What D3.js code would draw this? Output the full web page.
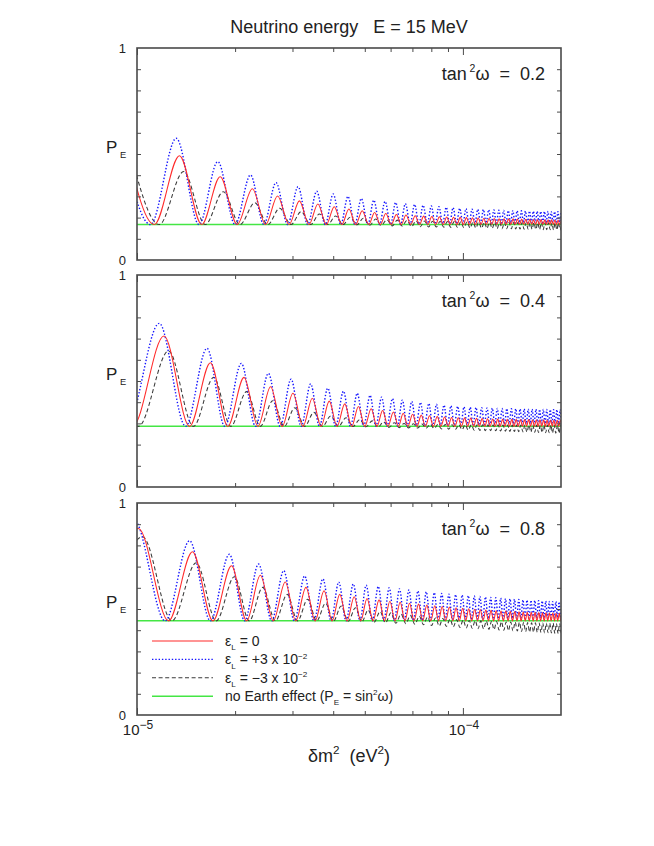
<!DOCTYPE html>
<html>

<head>
  <meta charset="utf-8">
  <script src="https://cdn.jsdelivr.net/npm/d3@7"></script>
  <title>Neutrino energy E = 15 MeV</title>
  <style>
    body {
      margin: 0px;
      background: #fff;
    }

    text {
      font-family: "Liberation Sans", Arial, sans-serif;
      fill: #222;
      white-space: pre;
    }
  </style>
</head>

<body>
  <svg width="654" height="846"></svg>
  <script>

    // dm2 in units of 1e-5 eV^2, P_E read at each maximum / minimum of the curves
    const tanValues = ['0.2', '0.4', '0.8'];
    const noEarth = [0.167, 0.286, 0.444];   // P_E = sin^2(w), red minima sit on it

    // ---- tan^2 w = 0.2
    const redPeakX1 = [0.91, 1.35, 1.80, 2.26, 2.70, 3.15, 3.59, 4.03, 4.47, 4.91, 5.36, 5.80, 6.25, 6.69, 7.14, 7.58, 8.03, 8.47, 8.92, 9.36, 9.81, 10.25, 10.70, 11.14, 11.59, 12.03, 12.48, 12.92, 13.37, 13.81, 14.26, 14.70, 15.15, 15.59, 16.04, 16.48, 16.93, 17.37, 17.82, 18.26, 18.71, 19.15, 19.60, 20.04];
    const redPeakP1 = [0.60, 0.492, 0.393, 0.336, 0.302, 0.279, 0.264, 0.251, 0.241, 0.232, 0.224, 0.219, 0.215, 0.212, 0.209, 0.207, 0.205, 0.204, 0.203, 0.202, 0.201, 0.200, 0.199, 0.198, 0.197, 0.197, 0.196, 0.195, 0.195, 0.194, 0.194, 0.193, 0.193, 0.192, 0.192, 0.191, 0.191, 0.191, 0.190, 0.190, 0.190, 0.189, 0.189, 0.189];
    const redTroughX1 = [1.13, 1.58, 2.03, 2.48, 2.93, 3.37, 3.81, 4.25, 4.69, 5.14, 5.58, 6.03, 6.47, 6.92, 7.36, 7.81, 8.25, 8.70, 9.14, 9.59, 10.03, 10.48, 10.92, 11.37, 11.81, 12.26, 12.70, 13.15, 13.59, 14.04, 14.48, 14.93, 15.37, 15.82, 16.26, 16.71, 17.15, 17.60, 18.04, 18.49, 18.93, 19.38, 19.82];

    const bluePeakX1 = [0.88, 1.32, 1.77, 2.23, 2.67, 3.12, 3.56, 4.00, 4.44, 4.88, 5.33, 5.77, 6.22, 6.66, 7.11, 7.55, 8.00, 8.44, 8.89, 9.33, 9.78, 10.22, 10.67, 11.11, 11.56, 12.00, 12.45, 12.89, 13.34, 13.78, 14.23, 14.67, 15.12, 15.56, 16.01, 16.45, 16.90, 17.34, 17.79, 18.23, 18.68, 19.12, 19.57, 20.01];
    const bluePeakP1 = [0.64, 0.574, 0.464, 0.401, 0.365, 0.346, 0.324, 0.311, 0.300, 0.290, 0.282, 0.276, 0.271, 0.266, 0.262, 0.258, 0.255, 0.252, 0.249, 0.247, 0.244, 0.242, 0.240, 0.239, 0.238, 0.237, 0.236, 0.235, 0.234, 0.233, 0.233, 0.232, 0.232, 0.231, 0.231, 0.230, 0.230, 0.229, 0.229, 0.229, 0.228, 0.228, 0.228, 0.228];
    const blueTroughX1 = [1.10, 1.55, 2.00, 2.45, 2.90, 3.34, 3.78, 4.22, 4.66, 5.11, 5.55, 6.00, 6.44, 6.89, 7.33, 7.78, 8.22, 8.67, 9.11, 9.56, 10.00, 10.45, 10.89, 11.34, 11.78, 12.23, 12.67, 13.12, 13.56, 14.01, 14.45, 14.90, 15.34, 15.79, 16.23, 16.68, 17.12, 17.57, 18.01, 18.46, 18.90, 19.35, 19.79];
    const blueTroughP1 = [0.167, 0.167, 0.167, 0.167, 0.167, 0.167, 0.167, 0.167, 0.167, 0.167, 0.167, 0.168, 0.168, 0.169, 0.169, 0.170, 0.170, 0.171, 0.171, 0.172, 0.172, 0.172, 0.173, 0.173, 0.174, 0.174, 0.174, 0.175, 0.175, 0.175, 0.175, 0.176, 0.176, 0.176, 0.176, 0.176, 0.177, 0.177, 0.177, 0.177, 0.177, 0.178, 0.178];

    const blackPeakX1 = [0.95, 1.39, 1.84, 2.30, 2.74, 3.19, 3.63, 4.07, 4.51, 4.95, 5.40, 5.84, 6.29, 6.73, 7.18, 7.62, 8.07, 8.51, 8.96, 9.40, 9.85, 10.29, 10.74, 11.18, 11.63, 12.07, 12.52, 12.96, 13.41, 13.85, 14.30, 14.74, 15.19, 15.63, 16.08, 16.52, 16.97, 17.41, 17.86, 18.30, 18.75, 19.19, 19.64, 20.08];
    const blackPeakP1 = [0.52, 0.417, 0.322, 0.270, 0.244, 0.228, 0.217, 0.208, 0.202, 0.197, 0.193, 0.190, 0.188, 0.186, 0.185, 0.184, 0.183, 0.182, 0.181, 0.181, 0.180, 0.180, 0.179, 0.179, 0.179, 0.178, 0.178, 0.178, 0.177, 0.177, 0.177, 0.177, 0.177, 0.176, 0.176, 0.176, 0.176, 0.176, 0.176, 0.176, 0.175, 0.175, 0.175, 0.175];
    const blackTroughX1 = [1.17, 1.62, 2.07, 2.52, 2.97, 3.41, 3.85, 4.29, 4.73, 5.18, 5.62, 6.07, 6.51, 6.96, 7.40, 7.85, 8.29, 8.74, 9.18, 9.63, 10.07, 10.52, 10.96, 11.41, 11.85, 12.30, 12.74, 13.19, 13.63, 14.08, 14.52, 14.97, 15.41, 15.86, 16.30, 16.75, 17.19, 17.64, 18.08, 18.53, 18.97, 19.42, 19.86];
    const blackTroughP1 = [0.167, 0.167, 0.167, 0.167, 0.167, 0.167, 0.167, 0.167, 0.166, 0.164, 0.163, 0.161, 0.160, 0.158, 0.157, 0.156, 0.156, 0.155, 0.154, 0.153, 0.152, 0.151, 0.151, 0.150, 0.149, 0.149, 0.148, 0.148, 0.147, 0.147, 0.146, 0.146, 0.145, 0.145, 0.145, 0.144, 0.144, 0.143, 0.143, 0.143, 0.142, 0.142, 0.142];

    // ---- tan^2 w = 0.4
    const redPeakX2 = [0.77, 1.21, 1.68, 2.13, 2.57, 3.01, 3.45, 3.89, 4.34, 4.78, 5.23, 5.67, 6.12, 6.56, 7.01, 7.45, 7.90, 8.34, 8.79, 9.23, 9.68, 10.12, 10.57, 11.01, 11.46, 11.90, 12.35, 12.79, 13.24, 13.68, 14.13, 14.57, 15.02, 15.46, 15.91, 16.35, 16.80, 17.24, 17.69, 18.13, 18.58, 19.02, 19.47, 19.91, 20.36];
    const redPeakP2 = [0.80, 0.712, 0.586, 0.517, 0.473, 0.442, 0.419, 0.405, 0.392, 0.380, 0.369, 0.361, 0.354, 0.348, 0.343, 0.339, 0.336, 0.333, 0.330, 0.328, 0.327, 0.326, 0.325, 0.324, 0.323, 0.322, 0.321, 0.321, 0.320, 0.320, 0.319, 0.319, 0.318, 0.318, 0.318, 0.317, 0.317, 0.317, 0.317, 0.316, 0.316, 0.316, 0.316, 0.316, 0.316];
    const redTroughX2 = [0.97, 1.45, 1.90, 2.35, 2.79, 3.23, 3.67, 4.11, 4.56, 5.00, 5.45, 5.89, 6.34, 6.78, 7.23, 7.67, 8.12, 8.56, 9.01, 9.45, 9.90, 10.34, 10.79, 11.23, 11.68, 12.12, 12.57, 13.01, 13.46, 13.90, 14.35, 14.79, 15.24, 15.68, 16.13, 16.57, 17.02, 17.46, 17.91, 18.35, 18.80, 19.24, 19.69, 20.13];

    const bluePeakX2 = [0.73, 1.17, 1.64, 2.09, 2.53, 2.97, 3.41, 3.85, 4.30, 4.74, 5.19, 5.63, 6.08, 6.52, 6.97, 7.41, 7.86, 8.30, 8.75, 9.19, 9.64, 10.08, 10.53, 10.97, 11.42, 11.86, 12.31, 12.75, 13.20, 13.64, 14.09, 14.53, 14.98, 15.42, 15.87, 16.31, 16.76, 17.20, 17.65, 18.09, 18.54, 18.98, 19.43, 19.87, 20.32];
    const bluePeakP2 = [0.88, 0.772, 0.654, 0.583, 0.536, 0.509, 0.486, 0.466, 0.452, 0.442, 0.432, 0.424, 0.417, 0.410, 0.404, 0.399, 0.394, 0.390, 0.386, 0.383, 0.380, 0.378, 0.376, 0.375, 0.374, 0.373, 0.372, 0.371, 0.370, 0.370, 0.369, 0.369, 0.368, 0.368, 0.367, 0.367, 0.367, 0.366, 0.366, 0.366, 0.365, 0.365, 0.365, 0.365, 0.365];
    const blueTroughX2 = [0.93, 1.41, 1.86, 2.31, 2.75, 3.19, 3.63, 4.07, 4.52, 4.96, 5.41, 5.85, 6.30, 6.74, 7.19, 7.63, 8.08, 8.52, 8.97, 9.41, 9.86, 10.30, 10.75, 11.19, 11.64, 12.08, 12.53, 12.97, 13.42, 13.86, 14.31, 14.75, 15.20, 15.64, 16.09, 16.53, 16.98, 17.42, 17.87, 18.31, 18.76, 19.20, 19.65, 20.09];
    const blueTroughP2 = [0.286, 0.286, 0.286, 0.286, 0.286, 0.286, 0.286, 0.286, 0.286, 0.286, 0.287, 0.287, 0.288, 0.288, 0.289, 0.290, 0.291, 0.291, 0.292, 0.292, 0.293, 0.293, 0.294, 0.294, 0.295, 0.295, 0.296, 0.296, 0.296, 0.297, 0.297, 0.297, 0.298, 0.298, 0.298, 0.298, 0.299, 0.299, 0.299, 0.299, 0.300, 0.300, 0.300, 0.300];

    const blackPeakX2 = [0.81, 1.25, 1.72, 2.17, 2.61, 3.05, 3.49, 3.93, 4.38, 4.82, 5.27, 5.71, 6.16, 6.60, 7.05, 7.49, 7.94, 8.38, 8.83, 9.27, 9.72, 10.16, 10.61, 11.05, 11.50, 11.94, 12.39, 12.83, 13.28, 13.72, 14.17, 14.61, 15.06, 15.50, 15.95, 16.39, 16.84, 17.28, 17.73, 18.17, 18.62, 19.06, 19.51, 19.95, 20.40];
    const blackPeakP2 = [0.70, 0.642, 0.517, 0.450, 0.407, 0.374, 0.352, 0.335, 0.327, 0.318, 0.312, 0.307, 0.303, 0.300, 0.298, 0.297, 0.296, 0.295, 0.295, 0.294, 0.294, 0.294, 0.293, 0.293, 0.293, 0.293, 0.293, 0.293, 0.292, 0.292, 0.292, 0.292, 0.292, 0.292, 0.292, 0.292, 0.292, 0.292, 0.292, 0.292, 0.292, 0.292, 0.292, 0.292, 0.292];
    const blackTroughX2 = [1.01, 1.49, 1.94, 2.39, 2.83, 3.27, 3.71, 4.15, 4.60, 5.04, 5.49, 5.93, 6.38, 6.82, 7.27, 7.71, 8.16, 8.60, 9.05, 9.49, 9.94, 10.38, 10.83, 11.27, 11.72, 12.16, 12.61, 13.05, 13.50, 13.94, 14.39, 14.83, 15.28, 15.72, 16.17, 16.61, 17.06, 17.50, 17.95, 18.39, 18.84, 19.28, 19.73, 20.17];
    const blackTroughP2 = [0.286, 0.286, 0.286, 0.286, 0.286, 0.286, 0.286, 0.286, 0.285, 0.284, 0.283, 0.281, 0.280, 0.279, 0.278, 0.277, 0.276, 0.274, 0.273, 0.272, 0.270, 0.269, 0.268, 0.267, 0.266, 0.266, 0.265, 0.264, 0.263, 0.262, 0.262, 0.261, 0.260, 0.259, 0.259, 0.258, 0.257, 0.257, 0.256, 0.256, 0.255, 0.254, 0.254, 0.253];

    // ---- tan^2 w = 0.8
    const redPeakX3 = [1.01, 1.48, 1.95, 2.39, 2.85, 3.30, 3.75, 4.19, 4.64, 5.08, 5.53, 5.97, 6.42, 6.86, 7.31, 7.75, 8.20, 8.64, 9.09, 9.53, 9.98, 10.42, 10.87, 11.31, 11.76, 12.20, 12.65, 13.09, 13.54, 13.98, 14.43, 14.87, 15.32, 15.76, 16.21, 16.65, 17.10, 17.54, 17.99, 18.43, 18.88, 19.32, 19.77, 20.21];
    const redPeakP3 = [0.880, 0.770, 0.704, 0.659, 0.627, 0.602, 0.586, 0.569, 0.558, 0.550, 0.543, 0.537, 0.532, 0.527, 0.523, 0.519, 0.515, 0.512, 0.509, 0.506, 0.503, 0.501, 0.499, 0.497, 0.495, 0.494, 0.492, 0.491, 0.490, 0.489, 0.488, 0.487, 0.486, 0.485, 0.484, 0.484, 0.483, 0.482, 0.482, 0.481, 0.481, 0.480, 0.480, 0.480];
    const redTroughX3 = [0.78, 1.25, 1.71, 2.17, 2.62, 3.07, 3.52, 3.97, 4.41, 4.86, 5.30, 5.75, 6.19, 6.64, 7.08, 7.53, 7.97, 8.42, 8.86, 9.31, 9.75, 10.20, 10.64, 11.09, 11.53, 11.98, 12.42, 12.87, 13.31, 13.76, 14.20, 14.65, 15.09, 15.54, 15.98, 16.43, 16.87, 17.32, 17.76, 18.21, 18.65, 19.10, 19.54, 19.99];

    const bluePeakX3 = [0.98, 1.45, 1.92, 2.36, 2.82, 3.27, 3.72, 4.16, 4.61, 5.05, 5.50, 5.94, 6.39, 6.83, 7.28, 7.72, 8.17, 8.61, 9.06, 9.50, 9.95, 10.39, 10.84, 11.28, 11.73, 12.17, 12.62, 13.06, 13.51, 13.95, 14.40, 14.84, 15.29, 15.73, 16.18, 16.62, 17.07, 17.51, 17.96, 18.40, 18.85, 19.29, 19.74, 20.18];
    const bluePeakP3 = [0.920, 0.822, 0.758, 0.712, 0.681, 0.656, 0.642, 0.627, 0.618, 0.612, 0.606, 0.600, 0.595, 0.590, 0.585, 0.581, 0.577, 0.573, 0.570, 0.568, 0.566, 0.563, 0.561, 0.559, 0.557, 0.555, 0.553, 0.551, 0.549, 0.548, 0.546, 0.545, 0.543, 0.542, 0.541, 0.540, 0.539, 0.538, 0.537, 0.536, 0.535, 0.535, 0.534, 0.534];
    const blueTroughX3 = [0.75, 1.22, 1.68, 2.14, 2.59, 3.04, 3.49, 3.94, 4.38, 4.83, 5.27, 5.72, 6.16, 6.61, 7.05, 7.50, 7.94, 8.39, 8.83, 9.28, 9.72, 10.17, 10.61, 11.06, 11.50, 11.95, 12.39, 12.84, 13.28, 13.73, 14.17, 14.62, 15.06, 15.51, 15.95, 16.40, 16.84, 17.29, 17.73, 18.18, 18.62, 19.07, 19.51, 19.96];
    const blueTroughP3 = [0.444, 0.444, 0.444, 0.444, 0.444, 0.444, 0.444, 0.444, 0.444, 0.444, 0.444, 0.445, 0.445, 0.446, 0.446, 0.447, 0.447, 0.448, 0.449, 0.450, 0.450, 0.451, 0.451, 0.452, 0.452, 0.453, 0.453, 0.454, 0.454, 0.455, 0.455, 0.455, 0.456, 0.456, 0.457, 0.457, 0.457, 0.458, 0.458, 0.458, 0.458, 0.459, 0.459, 0.459];

    const blackPeakX3 = [1.04, 1.52, 1.99, 2.43, 2.89, 3.34, 3.79, 4.23, 4.68, 5.12, 5.57, 6.01, 6.46, 6.90, 7.35, 7.79, 8.24, 8.68, 9.13, 9.57, 10.02, 10.46, 10.91, 11.35, 11.80, 12.24, 12.69, 13.13, 13.58, 14.02, 14.47, 14.91, 15.36, 15.80, 16.25, 16.69, 17.14, 17.58, 18.03, 18.47, 18.92, 19.36, 19.81, 20.25];
    const blackPeakP3 = [0.841, 0.718, 0.652, 0.602, 0.569, 0.546, 0.527, 0.514, 0.506, 0.495, 0.488, 0.482, 0.476, 0.470, 0.466, 0.462, 0.458, 0.455, 0.452, 0.450, 0.448, 0.446, 0.445, 0.444, 0.443, 0.442, 0.441, 0.440, 0.439, 0.439, 0.438, 0.437, 0.437, 0.436, 0.435, 0.435, 0.434, 0.434, 0.433, 0.433, 0.433, 0.432, 0.432, 0.432];
    const blackTroughX3 = [0.82, 1.28, 1.75, 2.21, 2.66, 3.11, 3.56, 4.01, 4.45, 4.90, 5.34, 5.79, 6.23, 6.68, 7.12, 7.57, 8.01, 8.46, 8.90, 9.35, 9.79, 10.24, 10.68, 11.13, 11.57, 12.02, 12.46, 12.91, 13.35, 13.80, 14.24, 14.69, 15.13, 15.58, 16.02, 16.47, 16.91, 17.36, 17.80, 18.25, 18.69, 19.14, 19.58, 20.03];
    const blackTroughP3 = [0.444, 0.444, 0.444, 0.444, 0.444, 0.444, 0.444, 0.443, 0.442, 0.440, 0.438, 0.435, 0.433, 0.431, 0.428, 0.426, 0.422, 0.420, 0.418, 0.416, 0.413, 0.411, 0.409, 0.407, 0.406, 0.404, 0.403, 0.401, 0.400, 0.398, 0.397, 0.396, 0.394, 0.393, 0.392, 0.391, 0.390, 0.389, 0.388, 0.388, 0.387, 0.386, 0.386, 0.385];

    const xMajor = [1, 10];
    const xMajorExp = ['−5', '−4'];
    const xMinor = [2, 3, 4, 5, 6, 7, 8, 9];
    const yTicks = [0.1, 0.2, 0.3, 0.4, 0.5, 0.6, 0.7, 0.8, 0.9];

    //merge maxima and minima into one sorted list of points
    const extrema = (px, pp, tx, tp) => px.map((v, i) => [v, pp[i]])
      .concat(tx.map((v, i) => [v, tp[i]]))
      .filter(d => d[1] !== undefined)
      .sort((a, b) => a[0] - b[0]);

    const panels = [
      {
        tan: tanValues[0], level: noEarth[0],
        red: extrema(redPeakX1, redPeakP1, redTroughX1, redTroughX1.map(() => noEarth[0])),
        blue: extrema(bluePeakX1, bluePeakP1, blueTroughX1, blueTroughP1),
        black: extrema(blackPeakX1, blackPeakP1, blackTroughX1, blackTroughP1)
      },
      {
        tan: tanValues[1], level: noEarth[1],
        red: extrema(redPeakX2, redPeakP2, redTroughX2, redTroughX2.map(() => noEarth[1])),
        blue: extrema(bluePeakX2, bluePeakP2, blueTroughX2, blueTroughP2),
        black: extrema(blackPeakX2, blackPeakP2, blackTroughX2, blackTroughP2)
      },
      {
        tan: tanValues[2], level: noEarth[2],
        red: extrema(redPeakX3, redPeakP3, redTroughX3, redTroughX3.map(() => noEarth[2])),
        blue: extrema(bluePeakX3, bluePeakP3, blueTroughX3, blueTroughP3),
        black: extrema(blackPeakX3, blackPeakP3, blackTroughX3, blackTroughP3)
      }
    ];

    //layout
    const svg = d3.select('svg');
    const left = 137, right = 561;
    const panelTops = [48, 275, 503];
    const panelH = 212;
    const frameColor = '#4a4a4a';

    const styles = {
      red: { stroke: '#ff2a2a', width: 1.05, dash: null },
      blue: { stroke: '#1414ff', width: 1.4, dash: '1.4,1.9' },
      black: { stroke: '#3a3a3a', width: 1.05, dash: '4,2.6' },
      green: { stroke: '#44e644', width: 1.5, dash: null }
    };

    const xScale = d3.scaleLog().domain([1, 20]).range([left, right]);

    //text with sub/superscripts
    function richText(t, parts, size, small) {
      const k = small || 0.58;
      let shift = 0;
      parts.forEach(part => {
        const s = typeof part === 'string' ? part : part[0];
        const mode = typeof part === 'string' ? 'n' : part[1];
        const target = mode === 'sup' ? -0.42 * size : mode === 'sub' ? 0.3 * size : 0;
        t.append('tspan')
          .attr('dy', target - shift)
          .style('font-size', (mode === 'n' ? size : k * size) + 'px')
          .text(s);
        shift = target;
      });
      return t;
    }

    //title
    svg.append('text')
      .attr('x', (left + right) / 2)
      .attr('y', 33)
      .attr('text-anchor', 'middle')
      .style('font-size', '18px')
      .text('Neutrino energy   E = 15 MeV');

    panels.forEach((p, i) => {
      const top = panelTops[i];
      const bottom = top + panelH;
      const yScale = d3.scaleLinear().domain([0, 1]).range([bottom, top]);

      const line = d3.line()
        .x(d => xScale(d[0]))
        .y(d => yScale(d[1]))
        .curve(d3.curveMonotoneX);

      svg.append('clipPath').attr('id', 'clip' + i)
        .append('rect')
        .attr('x', left).attr('y', top)
        .attr('width', right - left).attr('height', panelH);

      const curves = svg.append('g').attr('clip-path', `url(#clip${i})`);

      //no Earth effect
      curves.append('path')
        .datum([[1, p.level], [20, p.level]])
        .attr('d', line)
        .attr('fill', 'none')
        .attr('stroke', styles.green.stroke)
        .attr('stroke-width', styles.green.width);

      ['black', 'blue', 'red'].forEach(key => {
        curves.append('path')
          .datum(p[key])
          .attr('d', line)
          .attr('fill', 'none')
          .attr('stroke', styles[key].stroke)
          .attr('stroke-width', styles[key].width)
          .attr('stroke-dasharray', styles[key].dash);
      });

      //ticks, all pointing inwards
      const tickStyle = g => {
        g.select('.domain').remove();
        g.selectAll('.tick line').attr('stroke', frameColor).attr('stroke-width', 1);
      };
      svg.append('g').attr('transform', `translate(${left},0)`)
        .call(d3.axisRight(yScale).tickValues(yTicks).tickSize(4).tickFormat(''))
        .call(tickStyle);
      svg.append('g').attr('transform', `translate(${right},0)`)
        .call(d3.axisLeft(yScale).tickValues(yTicks).tickSize(4).tickFormat(''))
        .call(tickStyle);
      svg.append('g').attr('transform', `translate(0,${top})`)
        .call(d3.axisBottom(xScale).tickValues(xMinor).tickSize(4).tickFormat(''))
        .call(tickStyle);
      svg.append('g').attr('transform', `translate(0,${top})`)
        .call(d3.axisBottom(xScale).tickValues(xMajor).tickSize(7).tickFormat(''))
        .call(tickStyle);
      svg.append('g').attr('transform', `translate(0,${bottom})`)
        .call(d3.axisTop(xScale).tickValues(xMinor).tickSize(4).tickFormat(''))
        .call(tickStyle);
      svg.append('g').attr('transform', `translate(0,${bottom})`)
        .call(d3.axisTop(xScale).tickValues(xMajor).tickSize(7).tickFormat(''))
        .call(tickStyle);

      //frame
      svg.append('rect')
        .attr('x', left).attr('y', top)
        .attr('width', right - left).attr('height', panelH)
        .attr('fill', 'none')
        .attr('stroke', frameColor)
        .attr('stroke-width', 1.6);

      //0 and 1
      [0, 1].forEach(v => {
        svg.append('text')
          .attr('x', 126)
          .attr('y', yScale(v))
          .attr('dy', '0.36em')
          .attr('text-anchor', 'end')
          .style('font-size', '13px')
          .text(v);
      });

      //P_E
      richText(svg.append('text').attr('x', 106).attr('y', top + 105), ['P', [' E', 'sub']], 17, 0.55);

      //tan^2 w label
      richText(svg.append('text')
        .attr('x', right - 16)
        .attr('y', top + 32)
        .attr('text-anchor', 'end'), ['tan', [' 2', 'sup'], 'ω  =  ' + p.tan], 18);
    });

    //x tick labels
    const bottomY = panelTops[2] + panelH;
    xMajor.forEach((v, i) => {
      richText(svg.append('text')
        .attr('x', xScale(v) + 1)
        .attr('y', bottomY + 20)
        .attr('text-anchor', 'middle'), ['10', [xMajorExp[i], 'sup']], 15, 0.8);
    });

    //x axis title
    richText(svg.append('text')
      .attr('x', (left + right) / 2)
      .attr('y', bottomY + 47)
      .attr('text-anchor', 'middle'), ['δm', ['2', 'sup'], '  (eV', ['2', 'sup'], ')'], 18, 0.65);

    //legend
    const legendRows = [
      { key: 'red', parts: ['ε', ['L', 'sub'], ' = 0'] },
      { key: 'blue', parts: ['ε', ['L', 'sub'], ' = +3 x 10', ['−2', 'sup']] },
      { key: 'black', parts: ['ε', ['L', 'sub'], ' = −3 x 10', ['−2', 'sup']] },
      { key: 'green', parts: ['no Earth effect (P', ['E', 'sub'], ' = sin', ['2', 'sup'], 'ω)'] }
    ];
    legendRows.forEach((r, i) => {
      const ly = 641 + i * 18.4;
      svg.append('line')
        .attr('x1', 152).attr('x2', 213)
        .attr('y1', ly).attr('y2', ly)
        .attr('stroke', styles[r.key].stroke)
        .attr('stroke-width', styles[r.key].width)
        .attr('stroke-dasharray', styles[r.key].dash);
      richText(svg.append('text').attr('x', 225).attr('y', ly + 5), r.parts, 14);
    });

  </script>
</body>

</html>
